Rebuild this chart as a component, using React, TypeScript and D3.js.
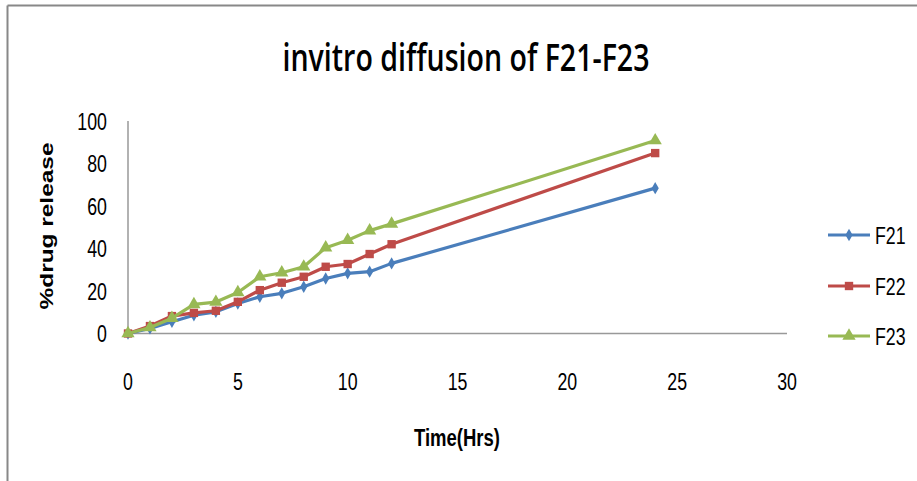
import React from "react";
import * as d3 from "d3";

const hours = [0, 1, 2, 3, 4, 5, 6, 7, 8, 9, 10, 11, 12, 24];
const f21 = [0, 2.4, 5.5, 8.6, 10.2, 14.1, 17.3, 18.9, 22.0, 25.9, 28.3, 29.1, 33.0, 68.4];
const f22 = [0, 3.5, 8.2, 9.7, 10.7, 14.9, 20.4, 23.9, 26.7, 31.4, 32.7, 37.4, 42.0, 84.9];
const f23 = [0, 2.8, 7.2, 13.7, 14.8, 19.3, 26.7, 28.6, 31.4, 40.4, 43.9, 48.4, 51.6, 90.8];
const xTicks = [0, 5, 10, 15, 20, 25, 30];
const yTicks = [0, 20, 40, 60, 80, 100];
const seriesNames = ["F21", "F22", "F23"];
const seriesColors = ["#4a7ebb", "#be4b48", "#98b954"];
const title = "invitro diffusion of F21-F23";

const W = 917;
const H = 481;
const SANS = "'Liberation Sans', Arial, sans-serif";
const SQ = 0.74; // horizontal squeeze to imitate a condensed face

export default function App() {
  const x = d3.scaleLinear().domain([0, 30]).range([128, 787]);
  const y = d3.scaleLinear().domain([0, 100]).range([333.5, 121]);
  const line = d3
    .line<[number, number]>()
    .x((d) => x(d[0]))
    .y((d) => y(d[1]));
  const all = [f21, f22, f23];
  const symbols = [d3.symbolDiamond, d3.symbolSquare, d3.symbolTriangle];
  const symSizes = [44, 70, 76];
  const legendY = [235, 286, 336];

  return (
    <div style={{ position: "absolute", left: 0, top: 0 }}>
      <svg width={W} height={H} style={{ display: "block", background: "#fff" }}>
        <rect x={0} y={0} width={W} height={H} fill="#fff" />
        <line x1={7.5} y1={5.5} x2={W} y2={5.5} stroke="#888" strokeWidth={2} />
        <line x1={7.5} y1={5.5} x2={7.5} y2={H} stroke="#888" strokeWidth={2} />

        <text
          x={466}
          y={71}
          textAnchor="middle"
          fontFamily="'Open Sans', 'Liberation Sans', sans-serif"
          fontWeight={600}
          fontSize={37}
          textLength={367}
          lengthAdjust="spacingAndGlyphs"
          fill="#000"
        >
          {title}
        </text>

        <line x1={x(0)} y1={y(100)} x2={x(0)} y2={y(0)} stroke="#999" strokeWidth={1.5} />
        <line x1={x(0)} y1={y(0)} x2={x(30)} y2={y(0)} stroke="#999" strokeWidth={1.5} />

        {yTicks.map((t) => (
          <text
            key={"y" + t}
            transform={`translate(107,${y(t)}) scale(${SQ},1)`}
            dy="0.36em"
            textAnchor="end"
            fontFamily={SANS}
            fontSize={24}
            fill="#000"
          >
            {t}
          </text>
        ))}
        {xTicks.map((t) => (
          <text
            key={"x" + t}
            transform={`translate(${x(t)},381) scale(${SQ},1)`}
            dy="0.36em"
            textAnchor="middle"
            fontFamily={SANS}
            fontSize={24}
            fill="#000"
          >
            {t}
          </text>
        ))}

        <text
          transform={`translate(53,226) rotate(-90)`}
          textAnchor="middle"
          fontFamily={SANS}
          fontWeight="bold"
          fontSize={19}
          textLength={167}
          lengthAdjust="spacingAndGlyphs"
          fill="#000"
        >
          %drug release
        </text>
        <text
          x={457}
          y={446}
          textAnchor="middle"
          fontFamily={SANS}
          fontWeight="bold"
          fontSize={23}
          textLength={86}
          lengthAdjust="spacingAndGlyphs"
          fill="#000"
        >
          Time(Hrs)
        </text>

        {all.map((vals, si) => {
          const pts: [number, number][] = hours.map((h, i) => [h, vals[i]]);
          const sym = d3.symbol().type(symbols[si]).size(symSizes[si])();
          return (
            <g key={seriesNames[si]}>
              <path
                d={line(pts) || ""}
                fill="none"
                stroke={seriesColors[si]}
                strokeWidth={3.2}
                strokeLinejoin="round"
              />
              {pts.map((p, i) => (
                <path
                  key={i}
                  d={sym || ""}
                  transform={`translate(${x(p[0])},${y(p[1])})`}
                  fill={seriesColors[si]}
                />
              ))}
            </g>
          );
        })}

        {seriesNames.map((n, si) => {
          const sym = d3.symbol().type(symbols[si]).size(symSizes[si])();
          return (
            <g key={"lg" + n}>
              <line
                x1={828}
                x2={870}
                y1={legendY[si]}
                y2={legendY[si]}
                stroke={seriesColors[si]}
                strokeWidth={3.2}
              />
              <path d={sym || ""} transform={`translate(849,${legendY[si]})`} fill={seriesColors[si]} />
              <text
                transform={`translate(875,${legendY[si]}) scale(${SQ},1)`}
                dy="0.36em"
                fontFamily={SANS}
                fontSize={24}
                fill="#000"
              >
                {n}
              </text>
            </g>
          );
        })}
      </svg>
    </div>
  );
}
